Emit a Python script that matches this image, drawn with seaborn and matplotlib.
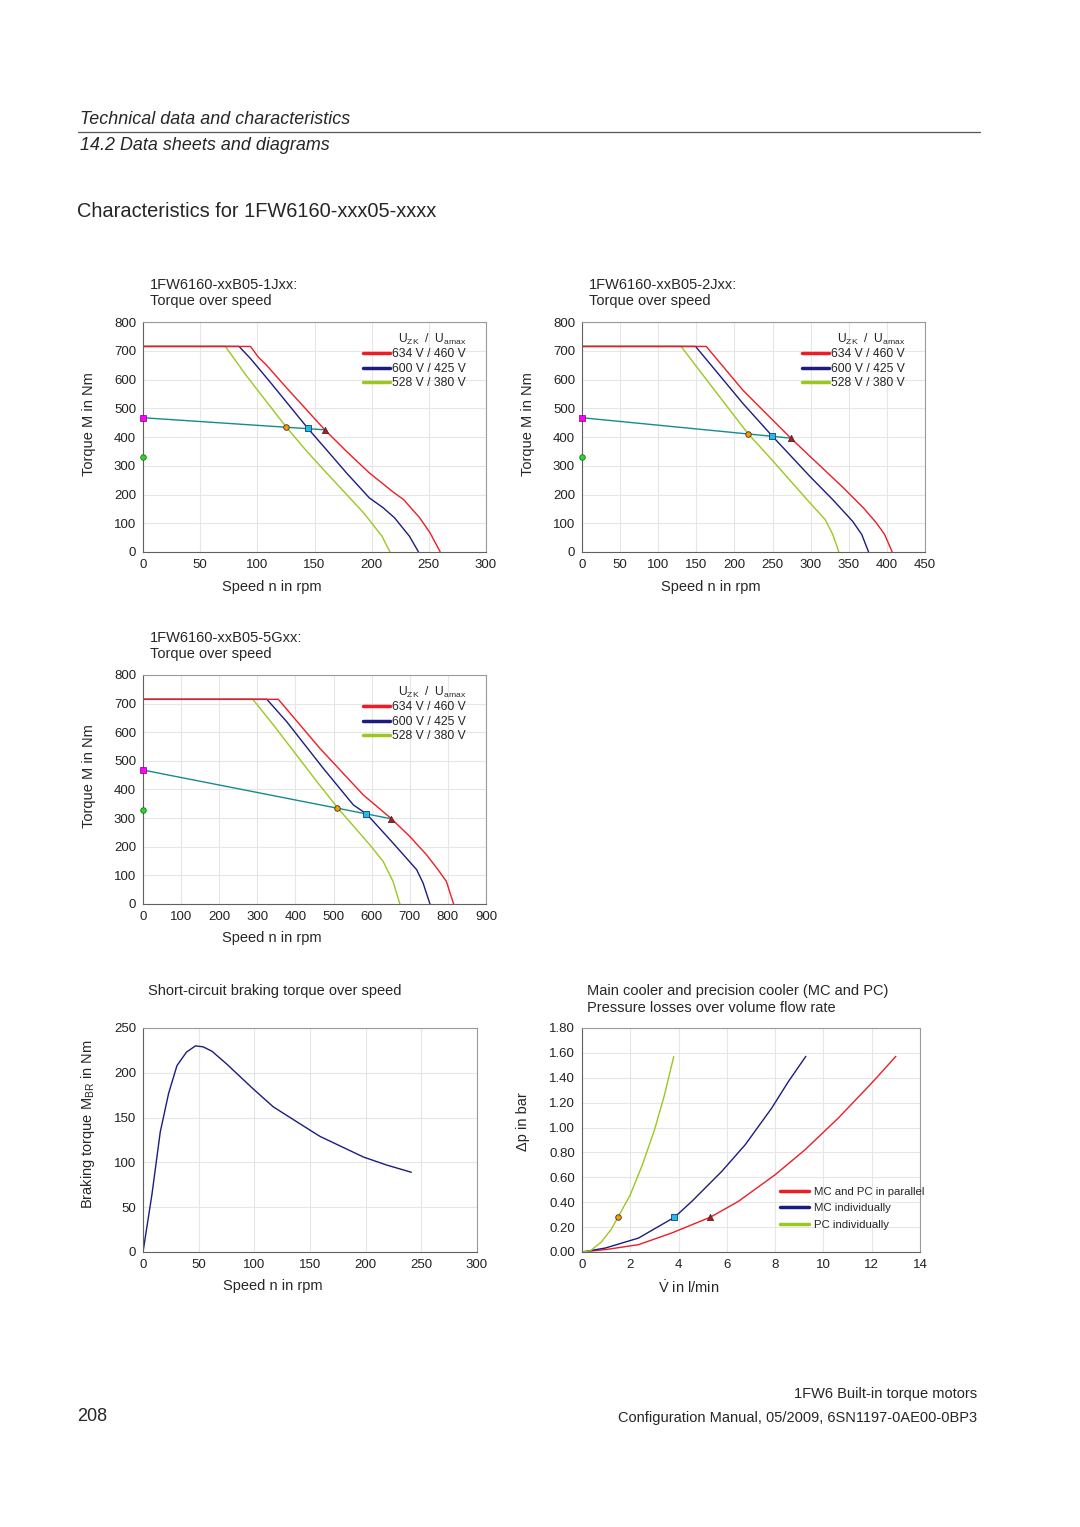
import numpy as np
import pandas as pd
import seaborn as sns
import matplotlib.pyplot as plt
from matplotlib.lines import Line2D

# ---- torque over speed, 1FW6160-xxB05-1Jxx
j1_n_634 = [0, 94, 101, 108, 126, 159, 178, 198, 219, 228, 242, 251, 260]
j1_m_634 = [715, 715, 677, 650, 569, 425, 350, 275, 208, 182, 119, 67, 0]
j1_n_600 = [0, 84, 94, 111, 144, 158, 178, 198, 210, 220, 233, 241]
j1_m_600 = [715, 715, 673, 592, 431, 367, 275, 188, 154, 119, 55, 0]
j1_n_528 = [0, 72, 91, 125, 142, 158, 193, 209, 216]
j1_m_528 = [715, 715, 610, 436, 356, 286, 136, 55, 0]
j1_lim_n = [0, 159]
j1_lim_m = [467, 425]
j1_pts_n = [125, 144, 159]
j1_pts_m = [436, 431, 425]

# ---- torque over speed, 1FW6160-xxB05-2Jxx
j2_n_634 = [0, 163, 211, 274, 299, 343, 369, 386, 397, 407]
j2_m_634 = [715, 715, 563, 396, 333, 223, 154, 102, 61, 0]
j2_n_600 = [0, 149, 211, 249, 299, 329, 355, 367, 376]
j2_m_600 = [715, 715, 517, 405, 263, 182, 107, 61, 0]
j2_n_528 = [0, 130, 177, 218, 249, 299, 319, 329, 337]
j2_m_528 = [715, 715, 552, 411, 321, 171, 113, 61, 0]
j2_lim_n = [0, 274]
j2_lim_m = [467, 396]
j2_pts_n = [218, 249, 274]
j2_pts_m = [411, 405, 396]

# ---- torque over speed, 1FW6160-xxB05-5Gxx
g5_n_634 = [0, 355, 464, 578, 650, 700, 744, 774, 796, 815]
g5_m_634 = [715, 715, 544, 381, 300, 236, 172, 120, 79, 0]
g5_n_600 = [0, 325, 377, 473, 552, 587, 652, 718, 735, 753]
g5_m_600 = [715, 715, 637, 474, 346, 314, 219, 120, 73, 0]
g5_n_528 = [0, 288, 342, 456, 510, 595, 630, 656, 674]
g5_m_528 = [715, 715, 626, 428, 337, 207, 149, 79, 0]
g5_lim_n = [0, 650]
g5_lim_m = [468, 298]
g5_pts_n = [510, 586, 650]
g5_pts_m = [337, 315, 298]

# stall torque points at n = 0
zero_n = [0, 0]
zero_m = [467, 330]

# ---- short-circuit braking torque
br_n = [0, 8, 15.5, 23, 30.5, 39, 47, 54, 62, 75, 99, 117, 150, 159, 198, 219, 241]
br_m = [0, 64, 134, 177, 208, 223, 230, 229, 224, 210, 182, 162, 136, 129, 106, 97, 89]

# ---- pressure losses over volume flow rate
par_q = [0, 1.0, 2.34, 3.72, 5.31, 6.48, 8.0, 9.24, 10.62, 12.0, 13.0]
par_p = [0, 0.02, 0.059, 0.153, 0.279, 0.407, 0.621, 0.822, 1.077, 1.358, 1.572]
mc_q = [0, 0.97, 2.34, 3.83, 4.55, 5.79, 6.76, 7.86, 8.55, 9.27]
mc_p = [0, 0.032, 0.112, 0.279, 0.407, 0.648, 0.862, 1.157, 1.37, 1.572]
pc_q = [0, 0.35, 0.8, 1.2, 1.49, 2.0, 2.5, 3.0, 3.4, 3.8]
pc_p = [0, 0.01, 0.08, 0.18, 0.279, 0.46, 0.70, 0.98, 1.25, 1.57]
pts_q = [1.49, 3.83, 5.31]
pts_p = [0.279, 0.279, 0.279]

volt_labels = ["634 V / 460 V", "600 V / 425 V", "528 V / 380 V"]
cool_labels = ["MC and PC in parallel", "MC individually", "PC individually"]

RED = "#ee1c25"
BLUE = "#1c1c80"
GREEN = "#9bc81e"
TEAL = "#148c8c"

sns.set_style("whitegrid", {"grid.color": "#e6e6e6", "axes.edgecolor": "#8a8a8a"})
plt.rcParams['font.family'] = ['Liberation Sans', 'DejaVu Sans']
plt.rcParams['mathtext.fontset'] = 'custom'
plt.rcParams['mathtext.rm'] = 'Liberation Sans'

W, H = 1080, 1527
fig = plt.figure(figsize=(W / 100, H / 100), dpi=100)


def box(l, t, r, b):
    return [l / W, 1 - b / H, (r - l) / W, (b - t) / H]


def ftext(x, y, s, **kw):
    fig.text(x / W, 1 - y / H, s, va="baseline", **kw)


def style_axes(ax):
    ax.tick_params(length=0, labelsize=9.5, pad=5, colors="#222222")
    for sp in ["left", "bottom"]:
        ax.spines[sp].set_color("#606060")
    for sp in ["top", "right"]:
        ax.spines[sp].set_color("#9a9a9a")
    ax.grid(True, lw=0.8)


def markers(ax, xs, ys):
    sns.scatterplot(x=[xs[0]], y=[ys[0]], marker="o", color="#ff9900", s=16,
                    edgecolor="#333333", lw=0.6, ax=ax, zorder=5)
    sns.scatterplot(x=[xs[1]], y=[ys[1]], marker="s", color="#22bbee", s=18,
                    edgecolor="#114466", lw=0.6, ax=ax, zorder=5)
    sns.scatterplot(x=[xs[2]], y=[ys[2]], marker="^", color="#cc1111", s=20,
                    edgecolor="#333333", lw=0.6, ax=ax, zorder=5)


def torque_plot(rect, xmax, xstep, curves, lim_n, lim_m, pts_n, pts_m):
    ax = fig.add_axes(rect)
    colors = [RED, BLUE, GREEN]
    # draw green, blue, then red on top
    for (n, m), c in list(zip(curves, colors))[::-1]:
        sns.lineplot(x=n, y=m, color=c, lw=1.0, ax=ax, estimator=None, sort=False)
    sns.lineplot(x=lim_n, y=lim_m, color=TEAL, lw=1.0, ax=ax, estimator=None, sort=False)
    sns.scatterplot(x=[zero_n[0]], y=[zero_m[0]], marker="s", color="#ff00ff", s=18,
                    edgecolor="#7a007a", lw=0.5, ax=ax, zorder=5, clip_on=False)
    sns.scatterplot(x=[zero_n[1]], y=[zero_m[1]], marker="o", color="#22dd22", s=16,
                    edgecolor="#115511", lw=0.5, ax=ax, zorder=5, clip_on=False)
    markers(ax, pts_n, pts_m)
    ax.set_xlim(0, xmax)
    ax.set_ylim(0, 800)
    ax.set_xticks(np.arange(0, xmax + 1, xstep))
    ax.set_yticks(np.arange(0, 801, 100))
    style_axes(ax)
    ax.set_xlabel("Speed n in rpm", fontsize=10.5)
    ax.set_ylabel("Torque M in Nm", fontsize=10.5)
    ax.xaxis.set_label_coords(0.375, -0.12)
    ax.yaxis.set_label_coords(-0.136, 0.557)
    h = [Line2D([], [], color=c, lw=2.5) for c in colors]
    leg = ax.legend(h, volt_labels, loc="upper right", bbox_to_anchor=(0.942, 0.957),
                    frameon=False, fontsize=8.7, handlelength=2.25, handletextpad=0.15,
                    labelspacing=0.2, borderpad=0, borderaxespad=0,
                    title=r"U$_{\mathregular{ZK}}$  /  U$_{\mathregular{amax}}$",
                    title_fontsize=8.7, alignment="right")
    leg._legend_box.sep = 1
    return ax


# top-left
torque_plot(box(143, 322, 486, 552), 300, 50,
            [(j1_n_634, j1_m_634), (j1_n_600, j1_m_600), (j1_n_528, j1_m_528)],
            j1_lim_n, j1_lim_m, j1_pts_n, j1_pts_m)
ftext(150, 289, "1FW6160-xxB05-1Jxx:", fontsize=10.5)
ftext(150, 305, "Torque over speed", fontsize=10.5)

# top-right
torque_plot(box(582, 322, 925, 552), 450, 50,
            [(j2_n_634, j2_m_634), (j2_n_600, j2_m_600), (j2_n_528, j2_m_528)],
            j2_lim_n, j2_lim_m, j2_pts_n, j2_pts_m)
ftext(589, 289, "1FW6160-xxB05-2Jxx:", fontsize=10.5)
ftext(589, 305, "Torque over speed", fontsize=10.5)

# middle-left
torque_plot(box(143, 675, 486, 904), 900, 100,
            [(g5_n_634, g5_m_634), (g5_n_600, g5_m_600), (g5_n_528, g5_m_528)],
            g5_lim_n, g5_lim_m, g5_pts_n, g5_pts_m)
ftext(150, 642, "1FW6160-xxB05-5Gxx:", fontsize=10.5)
ftext(150, 658, "Torque over speed", fontsize=10.5)

# braking torque
ax4 = fig.add_axes(box(143, 1028, 477, 1252))
sns.lineplot(x=br_n, y=br_m, color=BLUE, lw=1.0, ax=ax4, estimator=None, sort=False)
ax4.set_xlim(0, 300)
ax4.set_ylim(0, 250)
ax4.set_xticks(np.arange(0, 301, 50))
ax4.set_yticks(np.arange(0, 251, 50))
style_axes(ax4)
ax4.set_xlabel("Speed n in rpm", fontsize=10.5)
ax4.set_ylabel(r"Braking torque M$_{\mathregular{BR}}$ in Nm", fontsize=10.5)
ax4.xaxis.set_label_coords(0.388, -0.12)
ax4.yaxis.set_label_coords(-0.138, 0.571)
ftext(148, 995, "Short-circuit braking torque over speed", fontsize=10.5)

# pressure losses
ax5 = fig.add_axes(box(582, 1028, 920, 1252))
for q, p, c in zip([par_q, mc_q, pc_q], [par_p, mc_p, pc_p], [RED, BLUE, GREEN]):
    sns.lineplot(x=q, y=p, color=c, lw=1.0, ax=ax5, estimator=None, sort=False)
markers(ax5, pts_q, pts_p)
ax5.set_xlim(0, 14)
ax5.set_ylim(0, 1.8)
ax5.set_xticks(np.arange(0, 15, 2))
ax5.set_yticks(np.arange(0, 1.81, 0.2))
ax5.set_yticklabels([f"{v:.2f}" for v in np.arange(0, 1.81, 0.2)])
style_axes(ax5)
ax5.set_xlabel(r"$\dot{\mathregular{V}}$ in l/min", fontsize=10.5)
ax5.set_ylabel("Δp in bar", fontsize=10.5)
ax5.xaxis.set_label_coords(0.314, -0.12)
ax5.yaxis.set_label_coords(-0.153, 0.58)
h5 = [Line2D([], [], color=c, lw=2.5) for c in [RED, BLUE, GREEN]]
ax5.legend(h5, cool_labels, loc="lower left", bbox_to_anchor=(0.586, 0.1),
           frameon=False, fontsize=8.2, handlelength=2.5, handletextpad=0.5,
           labelspacing=0.55, borderpad=0, borderaxespad=0)
ftext(587, 995, "Main cooler and precision cooler (MC and PC)", fontsize=10.5)
ftext(587, 1012, "Pressure losses over volume flow rate", fontsize=10.5)

# page header / footer
ftext(80, 124, "Technical data and characteristics", fontsize=12.9, style="italic")
fig.add_artist(Line2D([78 / W, 980 / W], [1 - 131.5 / H, 1 - 131.5 / H], color="#555555", lw=0.9))
ftext(80, 150, "14.2 Data sheets and diagrams", fontsize=12.9, style="italic")
ftext(77, 217, "Characteristics for 1FW6160-xxx05-xxxx", fontsize=14.4)
ftext(77, 1421, "208", fontsize=13)
ftext(977, 1398, "1FW6 Built-in torque motors", fontsize=10.5, ha="right")
ftext(977, 1422, "Configuration Manual, 05/2009, 6SN1197-0AE00-0BP3", fontsize=10.5, ha="right")

fig.savefig("out.png", dpi=100)
